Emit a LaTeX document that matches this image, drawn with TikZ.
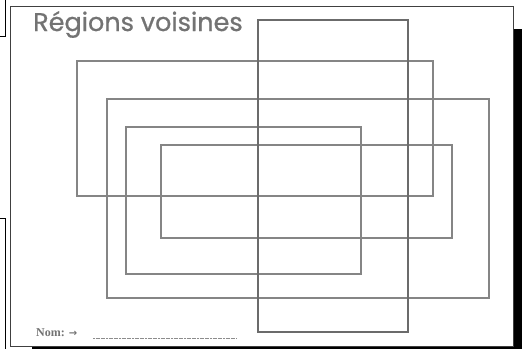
\documentclass[tikz,border=0pt]{standalone}
\usepackage{fontspec}
\newfontfamily\titlefont[FakeBold=0.8]{Poppins}
\newfontfamily\namefont{Liberation Serif}
\newfontfamily\symfont{DejaVu Sans}
\begin{document}
\begin{tikzpicture}[x=1pt,y=-1pt,
  region/.style={draw=black!48, line width=1.3pt},
  frame/.style={draw=black!75, line width=0.8pt},
  shadow/.style={fill=black}]
\useasboundingbox (0,0) rectangle (524,349);
\fill[white] (0,0) rectangle (524,349);
% stray edges of neighbouring pages
\draw[black, line width=0.8pt] (0,36.5) -- (5.5,36.5) -- (5.5,0);
\draw[black, line width=0.8pt] (0,218.5) -- (5.5,218.5) -- (5.5,349);
% page shadow and frame
\fill[shadow] (513,29) rectangle (521.5,349);
\fill[shadow] (32,346.5) rectangle (521.5,349);
\draw[frame, fill=white] (10,6) rectangle (513,346.5);
% title
\node[anchor=base west, text=black!55, inner sep=0pt, font=\titlefont\fontsize{25.5}{25.5}\selectfont] (title) at (33,31) {Régions voisines};
% regions
\draw[region] (77,61) rectangle (433,196);
\draw[region] (107,99) rectangle (489,298);
\draw[region] (126,127) rectangle (361,274);
\draw[region] (161,145) rectangle (452,238);
\draw[region, draw=black!58] (258,20) rectangle (408,332);
% name line
\node[anchor=base west, text=black!55, inner sep=0pt, font=\namefont\bfseries\fontsize{12}{12}\selectfont] (nom) at (36,336) {Nom: {\symfont\fontsize{10}{10}\selectfont →}};
\draw[black!45, line width=0.6pt, dash pattern=on 2pt off 0.6pt] (93,338) -- (237,338);
\end{tikzpicture}
\end{document}
